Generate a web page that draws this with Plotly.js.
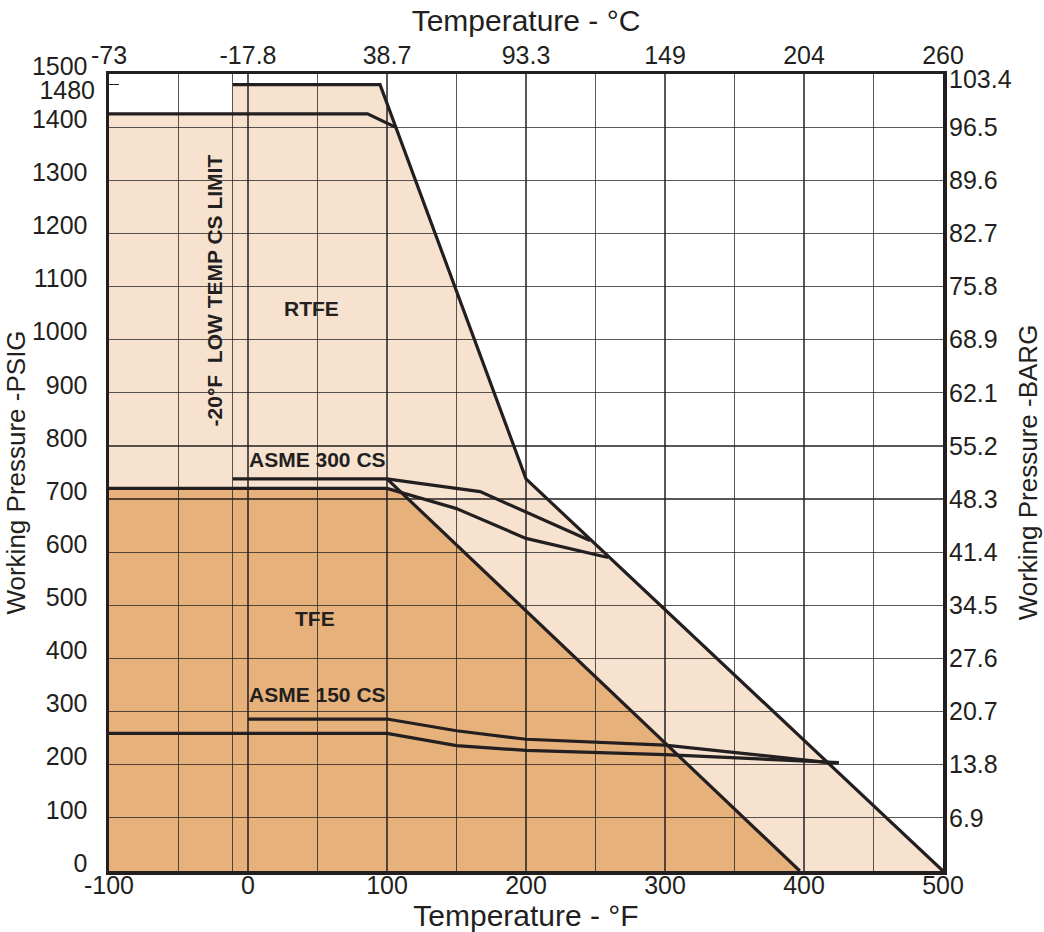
<!DOCTYPE html>
<html><head><meta charset="utf-8">
<script src="https://cdn.plot.ly/plotly-3.0.1.min.js"></script>
<style>html,body{margin:0;padding:0;background:#fff}#chart{width:1044px;height:932px}</style>
</head><body><div id="chart"></div>
<script>
// ---------- data ----------
const xGridF = [-100, -50, -11, 0, 50, 100, 150, 200, 250, 300, 350, 400, 450, 500];
const tempTicksF = [-100, 0, 100, 200, 300, 400, 500];
const tempTicksC = ['-73', '-17.8', '38.7', '93.3', '149', '204', '260'];
const psiTicks = [0, 100, 200, 300, 400, 500, 600, 700, 800, 900, 1000, 1100, 1200, 1300, 1400, 1500];
const barPsiTicks = [100, 200, 300, 400, 500, 600, 700, 800, 900, 1000, 1100, 1200, 1300, 1400];
const barTicks = ['6.9', '13.8', '20.7', '27.6', '34.5', '41.4', '48.3', '55.2', '62.1', '68.9', '75.8', '82.7', '89.6', '96.5'];
const barTopPsi = [1500];
const barTopTick = ['103.4'];
const extraPsiTick = [1480];

const lowTempLimitF = -11;

// RTFE envelope (low-temp CS branch and standard branch)
const rtfeLowTempF = [-11, 95, 200, 500];
const rtfeLowTempPsi = [1480, 1480, 738, 0];
const rtfeStdF = [-100, 86, 106];
const rtfeStdPsi = [1425, 1425, 1400];

// TFE diagonal
const tfeDiagF = [100, 397];
const tfeDiagPsi = [738, 0];

// ASME 300 CS
const asme300UpperF = [-11, 100, 122, 167, 246];
const asme300UpperPsi = [738, 738, 730, 714, 622];
const asme300LowerF = [-100, 100, 150, 200, 259];
const asme300LowerPsi = [720, 720, 682, 626, 590];

// ASME 150 CS
const asme150UpperF = [0, 100, 150, 200, 300, 418, 425];
const asme150UpperPsi = [286, 286, 264, 248, 237, 204, 204];
const asme150LowerF = [-100, 100, 150, 200, 300, 418, 425];
const asme150LowerPsi = [259, 259, 236, 227, 219, 204, 204];

// region labels
const labelText = ['RTFE', 'ASME 300 CS', 'TFE', 'ASME 150 CS'];
const labelF = [46, 50, 48, 50];
const labelPsi = [1058, 775, 476, 333];
const limitLabel = '-20°F\u00A0 LOW TEMP CS LIMIT';
const limitLabelF = -24;
const limitLabelPsi = 1092;

// ---------- styling ----------
const INK = '#231F20';
const FONT = 'Liberation Sans, Arial, Helvetica, sans-serif';
const LIGHT = '#F7E2D0';
const DARK = '#E7B17B';
const X_RANGE = [-100, 500];
const Y_RANGE = [0, 1500];

function line(xs, ys) {
  return {type: 'scatter', mode: 'lines', x: xs, y: ys,
    line: {color: INK, width: 3.2}, hoverinfo: 'skip', showlegend: false};
}
function xAtPsi(xs, ys, target) {
  for (let i = 0; i < xs.length - 1; i++) {
    const a = ys[i], b = ys[i + 1];
    if ((a - target) * (b - target) <= 0 && a !== b) {
      return xs[i] + (target - a) / (b - a) * (xs[i + 1] - xs[i]);
    }
  }
  return xs[0];
}
function pathOf(xs, ys) {
  return 'M ' + xs.map((x, i) => x + ',' + ys[i]).join(' L ') + ' Z';
}

// RTFE fill polygon
const rtfeFillX = [X_RANGE[0], rtfeStdF[0], lowTempLimitF].concat(rtfeLowTempF);
const rtfeFillY = [Y_RANGE[0], rtfeStdPsi[0], rtfeStdPsi[0]].concat(rtfeLowTempPsi);
// TFE fill polygon
const tfeTopPsi = asme300LowerPsi[0];
const tfeCorner = xAtPsi(tfeDiagF, tfeDiagPsi, tfeTopPsi);
const tfeFillX = [X_RANGE[0], asme300LowerF[0], tfeCorner, tfeDiagF[tfeDiagF.length - 1]];
const tfeFillY = [Y_RANGE[0], tfeTopPsi, tfeTopPsi, tfeDiagPsi[tfeDiagPsi.length - 1]];

const dummy = (xa, ya) => ({type: 'scatter', mode: 'markers', x: [null], y: [null],
  xaxis: xa, yaxis: ya, showlegend: false, hoverinfo: 'skip'});

const traces = [
  line(rtfeLowTempF, rtfeLowTempPsi),
  line(rtfeStdF, rtfeStdPsi),
  line(tfeDiagF, tfeDiagPsi),
  line(asme300UpperF, asme300UpperPsi),
  line(asme300LowerF, asme300LowerPsi),
  line(asme150UpperF, asme150UpperPsi),
  line(asme150LowerF, asme150LowerPsi),
  dummy('x2', 'y'), dummy('x', 'y2'), dummy('x', 'y3'), dummy('x', 'y4')
];

const tickFont = {family: FONT, size: 25, color: INK};
const gridColor = 'rgba(35,31,32,0.75)';

const annotations = labelText.map((t, i) => ({
  x: labelF[i], y: labelPsi[i], xref: 'x', yref: 'y', text: '<b>' + t + '</b>',
  showarrow: false, font: {family: FONT, size: 21, color: INK}
}));
annotations.push({x: limitLabelF, y: limitLabelPsi, xref: 'x', yref: 'y',
  text: '<b>' + limitLabel + '</b>', textangle: -90, showarrow: false,
  font: {family: FONT, size: 21, color: INK}});

const layout = {
  width: 1044, height: 932,
  margin: {l: 109, r: 101, t: 74, b: 61, pad: 0},
  paper_bgcolor: '#ffffff', plot_bgcolor: '#ffffff',
  showlegend: false,
  font: {family: FONT, color: INK},
  xaxis: {
    range: X_RANGE, tickvals: xGridF,
    ticktext: xGridF.map(v => tempTicksF.includes(v) ? String(v) : ''),
    ticks: '', showgrid: true, gridcolor: gridColor, gridwidth: 1.2, zeroline: false,
    showline: true, mirror: true, linecolor: INK, linewidth: 3.5,
    tickfont: tickFont, ticklabelstandoff: -11,
    title: {text: 'Temperature - °F', font: {family: FONT, size: 30, color: INK}, standoff: 2},
    fixedrange: true
  },
  xaxis2: {
    overlaying: 'x', side: 'top', anchor: 'y', range: X_RANGE,
    tickvals: tempTicksF, ticktext: tempTicksC, ticks: '', showgrid: false, zeroline: false,
    tickfont: tickFont, ticklabelstandoff: 4,
    title: {text: 'Temperature - °C', font: {family: FONT, size: 30, color: INK}, standoff: 0},
    fixedrange: true
  },
  yaxis: {
    range: Y_RANGE, tickvals: psiTicks,
    ticktext: psiTicks.map(String),
    ticks: '', showgrid: true, gridcolor: gridColor, gridwidth: 1.2, zeroline: false,
    showline: true, mirror: true, linecolor: INK, linewidth: 3.5,
    tickfont: tickFont, ticklabelshift: -8, ticklabelstandoff: 13,
    title: {text: 'Working Pressure -PSIG', font: {family: FONT, size: 26, color: INK}, standoff: 0},
    fixedrange: true
  },
  yaxis2: {
    overlaying: 'y', side: 'right', anchor: 'x', range: Y_RANGE,
    tickvals: barPsiTicks, ticktext: barTicks, ticks: '', showgrid: false, zeroline: false,
    tickfont: tickFont, ticklabelstandoff: 5,
    title: {text: 'Working Pressure -BARG', font: {family: FONT, size: 26, color: INK}, standoff: 22},
    fixedrange: true
  },
  yaxis3: {
    overlaying: 'y', side: 'left', anchor: 'x', range: Y_RANGE,
    tickvals: extraPsiTick, ticktext: extraPsiTick.map(String),
    ticks: 'inside', ticklen: 10, tickwidth: 1, tickcolor: INK,
    showgrid: false, zeroline: false, showline: false,
    tickfont: tickFont, ticklabelshift: 6, ticklabelstandoff: 13,
    fixedrange: true
  },
  yaxis4: {
    overlaying: 'y', side: 'right', anchor: 'x', range: Y_RANGE,
    tickvals: barTopPsi, ticktext: barTopTick, ticks: '',
    showgrid: false, zeroline: false, showline: false,
    tickfont: tickFont, ticklabelshift: 5, ticklabelstandoff: 5,
    fixedrange: true
  },
  shapes: [
    {type: 'path', xref: 'x', yref: 'y', layer: 'below', path: pathOf(rtfeFillX, rtfeFillY),
      fillcolor: LIGHT, line: {width: 0}},
    {type: 'path', xref: 'x', yref: 'y', layer: 'below', path: pathOf(tfeFillX, tfeFillY),
      fillcolor: DARK, line: {width: 0}}
  ],
  annotations: annotations
};

Plotly.newPlot('chart', traces, layout, {displayModeBar: false, staticPlot: true});
</script></body></html>
